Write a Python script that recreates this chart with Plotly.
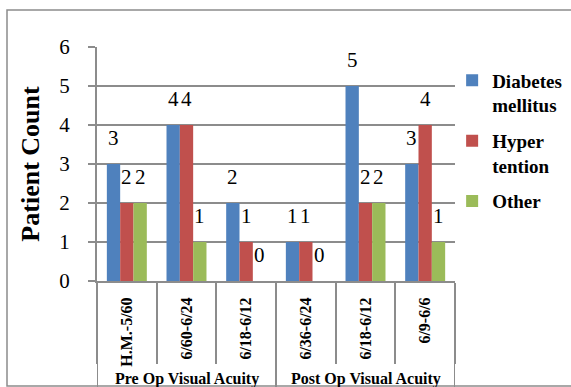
import plotly.graph_objects as go

# Visual acuity bands, grouped by pre-op / post-op
groups = ["Pre Op Visual Acuity", "Post Op Visual Acuity"]
group_sizes = [3, 3]
acuity = ["H.M.-5/60", "6/60-6/24", "6/18-6/12", "6/36-6/24", "6/18-6/12", "6/9-6/6"]

series_names = ["Diabetes<br>mellitus", "Hyper<br>tention", "Other"]
diabetes = [3, 4, 2, 1, 5, 3]
hypertension = [2, 4, 1, 1, 2, 4]
other = [2, 1, 0, 0, 2, 1]
colors = ["#4F81BD", "#C0504D", "#9BBB59"]

series_values = [diabetes, hypertension, other]

W, H = 571, 387
ML, MR, MT, MB = 97, 116, 47, 106
BARGAP = 0.33
SERIF = "Liberation Serif"
GRID = "#8c8c8c"

x_pos = list(range(len(acuity)))
plot_w = W - ML - MR
plot_h = H - MT - MB
cat_px = plot_w / len(acuity)
bar_px = cat_px * (1 - BARGAP) / len(series_values)

fig = go.Figure()
for i, (name, vals, col) in enumerate(zip(series_names, series_values, colors)):
    fig.add_trace(go.Bar(
        x=x_pos, y=vals, name=name, marker=dict(color=col, line=dict(width=0)),
        legendgroup=f"g{i}",
    ))

# value labels above each bar
annotations = []
for i, vals in enumerate(series_values):
    shift = (i - (len(series_values) - 1) / 2) * bar_px
    for xi, v in zip(x_pos, vals):
        annotations.append(dict(
            x=xi, y=v, xref="x", yref="y", text=str(v), showarrow=False,
            xshift=shift, yshift=26, yanchor="middle",
            font=dict(family=SERIF, size=21, color="black"),
        ))

# group labels under the category labels
start = 0
for g, n in zip(groups, group_sizes):
    annotations.append(dict(
        x=start + (n - 1) / 2, y=-(379 - (H - MB)) / plot_h, xref="x", yref="paper",
        text="<b>" + g + "</b>", showarrow=False, yanchor="middle",
        font=dict(family=SERIF, size=16, color="black"),
    ))
    start += n

shapes = []
# long dividers between the groups
bounds = [-0.5]
for n in group_sizes:
    bounds.append(bounds[-1] + n)
for b in bounds:
    shapes.append(dict(type="line", xref="x", yref="paper", x0=b, x1=b,
                       y0=0, y1=-(H - (H - MB)) / plot_h,
                       line=dict(color=GRID, width=2)))
# outer chart frame
shapes.append(dict(type="rect", xref="paper", yref="paper",
                   x0=(7 - ML) / plot_w, x1=(W + 10 - ML) / plot_w,
                   y0=((H - MB) - 386) / plot_h, y1=((H - MB) - 10) / plot_h,
                   line=dict(color=GRID, width=1.5)))

fig.update_layout(
    width=W, height=H,
    margin=dict(l=ML, r=MR, t=MT, b=MB, pad=0, autoexpand=False),
    paper_bgcolor="white", plot_bgcolor="white",
    barmode="group", bargap=BARGAP, bargroupgap=0,
    font=dict(family=SERIF, color="black"),
    annotations=annotations, shapes=shapes,
    legend=dict(
        x=0.992, xanchor="left", y=0.9385, yanchor="top",
        font=dict(family=SERIF, size=19, color="black", weight="bold"),
        valign="top", traceorder="grouped", tracegroupgap=8,
        bgcolor="rgba(0,0,0,0)",
    ),
    xaxis=dict(
        range=[-0.5, len(acuity) - 0.5], tickmode="array", tickvals=x_pos,
        ticktext=["<b>" + a + "</b>" for a in acuity],
        tickangle=-90, ticks="", showgrid=False, zeroline=False,
        showline=True, linecolor=GRID, linewidth=2,
        tickfont=dict(family=SERIF, size=16, color="black"),
        ticklabelstandoff=8,
        minor=dict(tick0=0.5, dtick=1, ticks="outside", ticklen=81,
                   tickwidth=2, tickcolor=GRID, showgrid=False),
    ),
    yaxis=dict(
        range=[0, 6], dtick=1, showgrid=True, gridcolor=GRID, gridwidth=2,
        zeroline=False, showline=True, linecolor=GRID, linewidth=2,
        ticks="outside", ticklen=7, tickwidth=2, tickcolor=GRID,
        tickfont=dict(family=SERIF, size=21, color="black"),
        ticklabelstandoff=14,
        title=dict(text="<b>Patient Count</b>", standoff=12,
                   font=dict(family=SERIF, size=26, color="black")),
    ),
)

fig.write_html("out.html")
